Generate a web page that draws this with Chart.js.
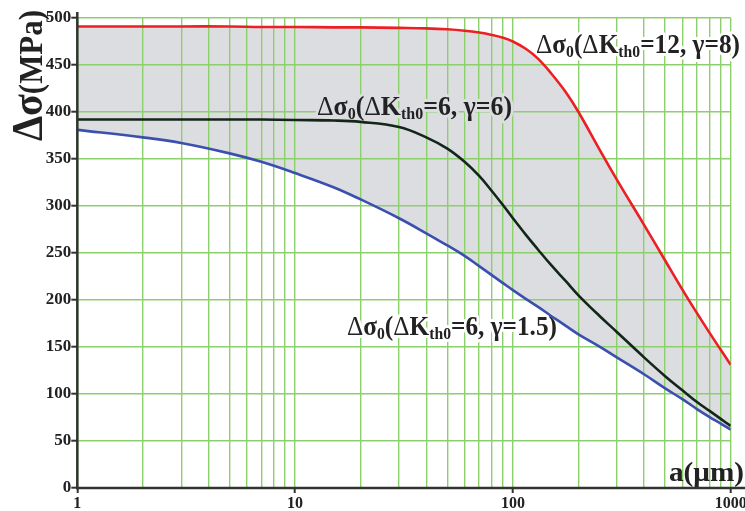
<!DOCTYPE html>
<html><head><meta charset="utf-8">
<script src="https://cdn.jsdelivr.net/npm/chart.js@4"></script>
<style>html,body{margin:0;padding:0;background:#fff;overflow:hidden}</style>
</head><body>
<canvas id="c" width="745" height="511" style="width:745px;height:511px;display:block"></canvas>
<script>
// ---- data ----
const aValues   = [1, 2, 3, 5, 7, 10, 15, 20, 30, 40, 50, 60, 70, 80, 90, 100, 115, 130, 150, 175, 200, 250, 300, 400, 500, 600, 700, 800, 900, 1000];
const sigmaG8   = [491, 491, 491, 491, 490.5, 490.5, 490, 490, 489.5, 489, 488, 486.5, 484.5, 482, 479, 475, 467, 457, 441, 421, 400, 360, 328, 280, 242, 211, 186, 165, 147, 131];
const sigmaG6   = [392, 392, 392, 392, 392, 391.5, 391, 389.5, 384, 373, 361, 347, 332, 316, 301, 287, 269, 254, 237, 220, 205, 183, 166, 139, 119, 104, 91.5, 82, 73.5, 66];
const sigmaG15  = [381, 373, 367, 356, 347, 335, 320, 307, 287, 271, 258, 247, 236, 226.5, 218, 210.5, 201, 193, 183, 172.5, 163.5, 150.5, 139, 121, 106, 94.5, 84, 75.5, 68.5, 62];
const xGridTicks  = [1,2,3,4,5,6,7,8,9,10,20,30,40,50,60,70,80,90,100,200,300,400,500,600,700,800,900,1000];
const xLabelTicks = [1, 10, 100, 1000];
const yTicks      = [0, 50, 100, 150, 200, 250, 300, 350, 400, 450, 500];
const labelG8  = ['Δ', 'σ', '0', '(Δ', 'K', 'th0', '=12, γ=8)'];
const labelG6  = ['Δ', 'σ', '0', '(Δ', 'K', 'th0', '=6, γ=6)'];
const labelG15 = ['Δ', 'σ', '0', '(Δ', 'K', 'th0', '=6, γ=1.5)'];
const yTitle = ['Δσ', '(MPa)'];
const xTitle = ['a(μm)'];

const FONT = '"Liberation Serif", "DejaVu Serif", serif';
const GRID = '#8cd06c';
const AXIS = '#333333';
const FILLC = '#dcdde0';

function pts(ys){ return aValues.map((a,i)=>({x:a, y:ys[i]})); }

// rich text: parts = [{t,size,weight,dy}]
function drawRich(ctx, parts, x, y, width, opt){
  opt = opt || {};
  ctx.save();
  ctx.translate(x, y);
  if (opt.rotate) ctx.rotate(opt.rotate);
  let nat = 0;
  const ws = parts.map(p => { ctx.font = `${p.weight||'bold'} ${p.size}px ${FONT}`; const w = ctx.measureText(p.t).width; nat += w; return w; });
  ctx.scale(width / nat, 1);
  ctx.textBaseline = 'alphabetic';
  ctx.textAlign = 'left';
  if (opt.halo){
    let cx = 0;
    ctx.strokeStyle = opt.halo; ctx.lineWidth = 6; ctx.lineJoin = 'round';
    parts.forEach((p,i)=>{ ctx.font = `${p.weight||'bold'} ${p.size}px ${FONT}`; ctx.strokeText(p.t, cx, p.dy||0); cx += ws[i]; });
  }
  let cx = 0;
  ctx.fillStyle = opt.color || '#222';
  parts.forEach((p,i)=>{ ctx.font = `${p.weight||'bold'} ${p.size}px ${FONT}`; ctx.fillText(p.t, cx, p.dy||0); cx += ws[i]; });
  ctx.restore();
}

function curveLabel(strs, S){
  return [
    {t:strs[0], size:S, weight:'normal'},
    {t:strs[1], size:S},
    {t:strs[2], size:S*0.62, dy:S*0.16},
    {t:'(', size:S},
    {t:'Δ', size:S, weight:'normal'},
    {t:strs[4], size:S},
    {t:strs[5], size:S*0.62, dy:S*0.16},
    {t:strs[6], size:S}
  ];
}

const annot = {
  id: 'annot',
  beforeDatasetsDraw(chart){
    const ctx = chart.ctx;
    drawRich(ctx, curveLabel(labelG8, 28), 536, 53, 204, {halo:'#ffffff'});
    drawRich(ctx, curveLabel(labelG6, 28), 317, 115, 195, {halo:FILLC});
    drawRich(ctx, curveLabel(labelG15, 28), 347, 335, 210, {halo:'#ffffff'});
  },
  afterDraw(chart){
    const ctx = chart.ctx;
    const xs = chart.scales.x, ys = chart.scales.y;
    const x0 = xs.getPixelForValue(1), y0 = ys.getPixelForValue(0);
    ctx.save();
    ctx.strokeStyle = AXIS; ctx.lineWidth = 2.5; ctx.lineCap = 'butt';
    ctx.beginPath(); ctx.moveTo(x0, y0 + 1.2); ctx.lineTo(x0, 12); ctx.stroke();
    ctx.beginPath(); ctx.moveTo(x0 - 1.2, y0); ctx.lineTo(745, y0); ctx.stroke();
    ctx.restore();
    // axis titles
    drawRich(ctx, [{t:yTitle[0], size:44}, {t:yTitle[1], size:34}], 42, 141, 131, {rotate:-Math.PI/2, color:'#222'});
    drawRich(ctx, [{t:xTitle[0], size:28}], 669, 481, 75, {color:'#222'});
  }
};

new Chart(document.getElementById('c'), {
  type: 'line',
  data: {
    datasets: [
      {data: pts(sigmaG8), borderColor:'#ec2024', borderWidth:2.6, pointRadius:0, fill:2, backgroundColor:FILLC, tension:0.4},
      {data: pts(sigmaG6), borderColor:'#13261a', borderWidth:2.6, pointRadius:0, fill:false, tension:0.4},
      {data: pts(sigmaG15), borderColor:'#3a4fae', borderWidth:2.6, pointRadius:0, fill:false, tension:0.4}
    ]
  },
  options: {
    responsive: false,
    animation: false,
    devicePixelRatio: 1,
    layout: {padding: {top: 18, right: 14.3, left: 0, bottom: 0}},
    plugins: {legend:{display:false}, tooltip:{enabled:false}, filler:{drawTime:'beforeDraw'}},
    scales: {
      x: {
        type: 'logarithmic', min: 1, max: 1000,
        border: {display:false},
        grid: {color: GRID, lineWidth: 1.4, drawTicks: true, tickLength: 5,
               tickColor: c => (c.tick && xLabelTicks.includes(c.tick.value)) ? AXIS : 'rgba(0,0,0,0)', tickWidth: 2},
        ticks: {autoSkip:false, maxRotation:0, padding:1, color:'#222', font:{family:FONT, size:16, weight:'bold'},
                callback: v => xLabelTicks.includes(v) ? String(v) : ''},
        afterBuildTicks: s => { s.ticks = xGridTicks.map(v => ({value:v})); },
        afterFit: s => { s.height = 23; s.paddingLeft = 0; s.paddingRight = 0; }
      },
      y: {
        min: 0, max: 500,
        border: {display:false},
        grid: {color: GRID, lineWidth: 1.4, drawTicks: true, tickLength: 6, tickColor: AXIS, tickWidth: 2},
        ticks: {padding:0, color:'#222', font:{family:FONT, size:17, weight:'bold'}, callback: v => String(v)},
        afterBuildTicks: s => { s.ticks = yTicks.map(v => ({value:v})); },
        afterFit: s => { s.width = 77.3; s.paddingTop = 0; s.paddingBottom = 0; }
      }
    }
  },
  plugins: [annot]
});
</script>
</body></html>
